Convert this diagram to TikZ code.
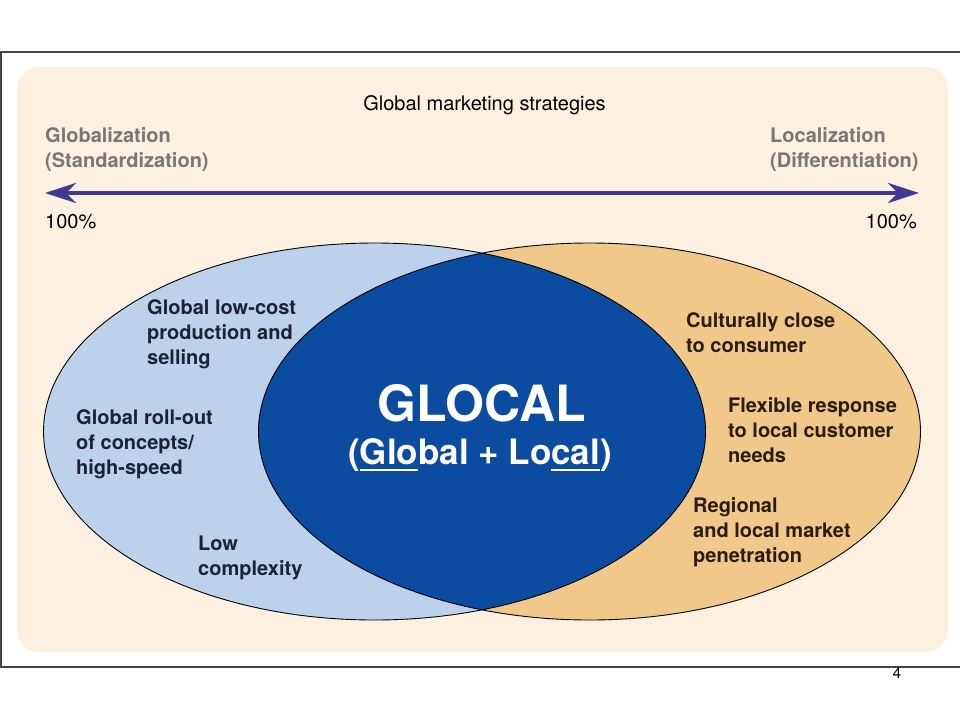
\documentclass[tikz,border=0pt]{standalone}
\usepackage{fontspec}
\setmainfont{TeX Gyre Heros}
\usetikzlibrary{arrows.meta}
\definecolor{cream}{HTML}{FCF0E0}
\definecolor{lblue}{HTML}{BCD2EC}
\definecolor{tanc}{HTML}{F0C88A}
\definecolor{dblue}{HTML}{0B4CA0}
\definecolor{arrowc}{HTML}{3E3A8F}
\definecolor{greyt}{HTML}{777777}
\definecolor{navyt}{HTML}{1B2236}
\definecolor{brownt}{HTML}{2B1C12}
\definecolor{framec}{HTML}{444444}
\newcommand\myul[1]{\setbox0\hbox{#1}\rlap{\rule[-7pt]{\wd0}{2.2pt}}\box0}
\tikzset{
  lbl/.style={anchor=base west, inner sep=0pt, align=left, font=\fontsize{20}{25}\selectfont\bfseries},
  plain/.style={inner sep=0pt, font=\fontsize{20}{25}\selectfont},
  ell/.style={x radius=331pt, y radius=188.5pt},
}
\begin{document}
\begin{tikzpicture}[x=1pt,y=-1pt]
\useasboundingbox (0,0) rectangle (960,720);
\fill[white] (0,0) rectangle (960,720);
% frame
\draw[framec, line width=1.3pt] (-2,52) -- (962,52);
\draw[framec, line width=1.3pt] (1,52) -- (1,667);
\draw[framec, line width=1.3pt] (-2,667) -- (962,667);
% background
\fill[cream, rounded corners=22pt] (17,67) rectangle (948,652);
% ellipses
\coordinate (cl) at (374.5,431.5);
\coordinate (cr) at (589.5,431.5);
\fill[lblue] (cl) ellipse [ell];
\fill[tanc] (cr) ellipse [ell];
\begin{scope}
  \clip (cl) ellipse [ell];
  \fill[dblue] (cr) ellipse [ell];
\end{scope}
\draw[black, line width=0.9pt] (cl) ellipse [ell];
\draw[black, line width=0.9pt] (cr) ellipse [ell];
% arrow
\coordinate (al) at (45,193);
\coordinate (ar) at (919,193);
\draw[arrowc, line width=4.5pt, {Stealth[length=31pt,width=20pt,inset=10pt]}-{Stealth[length=31pt,width=20pt,inset=10pt]}] (al) -- (ar);
% top texts (base anchor = last line baseline)
\node[plain, anchor=base] (title) at (484.5,110) {Global marketing strategies};
\node[lbl, text=greyt] (glob) at (45,167) {Globalization\\(Standardization)};
\node[lbl, text=greyt] (loc) at (770,167) {Localization\\(Differentiation)};
\node[plain, anchor=base west] (pl) at (45,228) {100\%};
\node[plain, anchor=base east] (pr) at (917,228) {100\%};
% left texts
\node[lbl, text=navyt] (t1) at (147,364) {Global low-cost\\production and\\selling};
\node[lbl, text=navyt] (t2) at (76,474) {Global roll-out\\of concepts/\\high-speed};
\node[lbl, text=navyt] (t3) at (198,575) {Low\\complexity};
% right texts
\node[lbl, text=brownt] (t4) at (686,352) {Culturally close\\to consumer};
\node[lbl, text=brownt] (t5) at (728,462) {Flexible response\\to local customer\\needs};
\node[lbl, text=brownt] (t6) at (693,562) {Regional\\and local market\\penetration};
% centre
\node[inner sep=0pt, anchor=base, text=white, font=\fontsize{50}{52}\selectfont\bfseries] (g1) at (482,421) {GLOCAL};
\node[inner sep=0pt, anchor=base, text=white, font=\fontsize{35}{38}\selectfont\bfseries] (g2) at (480,464) {(\myul{Glo}bal + Lo\myul{cal})};
% page number
\node[inner sep=0pt, anchor=base, font=\fontsize{15}{18}\selectfont] (pg) at (897,678) {4};
\end{tikzpicture}
\end{document}
